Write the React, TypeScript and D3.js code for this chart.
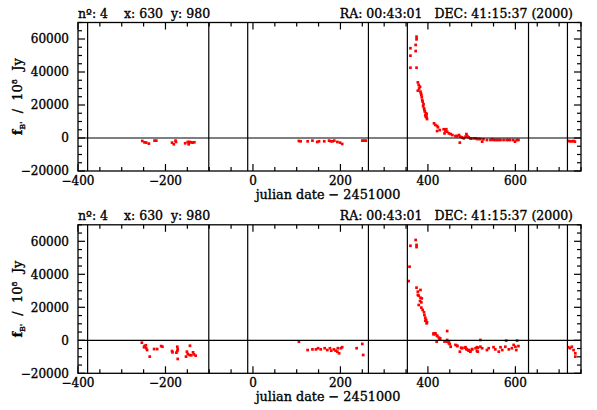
import React from "react";
import * as d3 from "d3";

const W = 597;
const H = 410;

const xDomain = [-400, 750];
const yDomain = [-20000, 70000];
const xMajor = [-400, -200, 0, 200, 400, 600];
const yMajor = [-20000, 0, 20000, 40000, 60000];
const seasonLines = [-378, -101, -12, 264, 353, 630, 719];

const headerLeft = "nº: 4    x: 630  y: 980";
const headerRight = "RA: 00:43:01   DEC: 41:15:37 (2000)";
const xTitle = "julian date − 2451000";

// top panel
const topSeason1 = [[-253,-1800],[-248,-2600],[-244,-2800],[-238,-3400],[-225,-1600],[-221,-1600],[-185,-2800],[-181,-3800],[-177,-1600],[-176,-2400],[-155,-3200],[-149,-2400],[-145,-2400],[-147,-3800],[-141,-2600],[-138,-2800],[-134,-2600]];
const topSeason2 = [[105,-1800],[109,-2000],[125,-2000],[136,-1600],[147,-2400],[151,-2000],[163,-2000],[174,-1600],[178,-2000],[182,-2000],[186,-1600],[193,-2400],[199,-2800],[204,-3600],[250,-1600],[254,-1600],[258,-1600]];
const topSeason3 = [[360,54400],[360,49900],[360,42600],[372,56400],[372,52700],[374,61400],[374,59800],[374,42600],[377,33700],[379,32100],[382,31100],[377,28700],[383,28100],[385,26100],[386,24700],[388,22000],[389,19400],[391,18000],[393,16000],[394,13900],[397,12500],[398,11500],[397,14300],[380,30000],[384,27000],[387,23000],[390,20500],[392,17000],[395,13000],[396,15000],[414,8900],[417,7900],[421,7300],[423,6500],[427,4800],[421,4200],[436,5300],[440,4400],[442,5300],[444,3800],[438,2800],[448,2800],[452,2400],[456,1800],[463,1200],[467,1200],[471,1800],[474,800],[473,-2800],[478,400],[482,-200],[486,800],[488,2400],[490,1200],[493,400],[497,-200],[499,-400],[505,-200],[509,-200],[512,-600],[516,-600],[520,-600],[524,-2200],[527,-800],[535,-1200],[543,-1200],[547,-800],[550,-1200],[554,-1200],[558,-1200],[562,-1200],[566,-1200],[573,-1200],[580,-1200],[584,-1200],[588,-1200],[595,-1200],[599,-2200],[603,-1200],[607,-1200]];
const topSeason4 = [[721,-1800],[725,-2000],[729,-2000],[733,-1800],[736,-2200]];

// bottom panel
const botSeason1 = [[-254,-1450],[-249,-4200],[-248,-3500],[-245,-3000],[-244,-4800],[-242,-5900],[-236,-9900],[-226,-5300],[-219,-5300],[-210,-3500],[-207,-3900],[-185,-6500],[-184,-7300],[-173,-3900],[-172,-5500],[-173,-6500],[-175,-7500],[-172,-11300],[-151,-6900],[-149,-8300],[-144,-3300],[-153,-9900],[-145,-8900],[-141,-9100],[-137,-7300],[-135,-8500],[-131,-9300]];
const botSeason2 = [[105,-850],[125,-5900],[136,-5500],[144,-5500],[149,-4800],[155,-5500],[164,-4800],[170,-5900],[176,-4800],[179,-6300],[185,-5500],[189,-6300],[193,-6900],[197,-7900],[201,-4800],[204,-4200],[194,-4800],[237,-4800],[250,-2200],[252,-8900]];
const botSeason3 = [[360,57300],[358,44600],[356,35900],[372,60800],[374,57800],[374,56500],[374,31900],[383,30500],[377,29500],[377,27500],[379,27000],[383,25800],[386,25400],[382,23800],[385,23000],[379,21400],[385,19800],[388,18400],[391,17000],[392,15300],[394,13700],[396,12300],[398,10900],[397,10300],[394,11900],[413,3600],[417,4200],[421,2800],[425,1600],[427,800],[413,4200],[417,3800],[421,2600],[428,1200],[420,-800],[444,5600],[438,-800],[444,200],[444,-800],[448,-1200],[448,-1800],[450,-2400],[452,-3900],[463,-2800],[467,-3300],[467,-3500],[473,-6900],[476,-4500],[478,-4800],[484,-4500],[486,-4200],[488,-5300],[489,-5500],[493,-5900],[493,-6300],[497,-6500],[497,-6900],[501,-5300],[501,-5500],[509,-4800],[512,-4200],[514,-4500],[514,-6900],[512,-6500],[520,-3900],[520,200],[524,-4800],[535,-5900],[539,-4800],[550,-4200],[554,-5500],[562,-6900],[566,-4200],[570,-5900],[577,-3900],[579,-200],[585,-5500],[592,-4800],[596,-2800],[600,-3900],[604,-200],[602,-5900],[607,-3500]];
const botSeason4 = [[721,-4200],[725,-4800],[729,-3900],[733,-5900],[737,-7900],[737,-9900]];

const topData = [topSeason1, topSeason2, topSeason3, topSeason4];
const botData = [botSeason1, botSeason2, botSeason3, botSeason4];

const FONT = "DejaVu Serif";

function Panel({ top, bottom, seasons }: { top: number; bottom: number; seasons: number[][][] }) {
  const left = 78;
  const right = 581;
  const x = d3.scaleLinear().domain(xDomain).range([left, right]);
  const y = d3.scaleLinear().domain(yDomain).range([bottom, top]);
  const xMinor = d3.range(-400, 751, 50).filter((v) => v % 200 !== 0);
  const yMinor = d3.range(-20000, 70001, 5000).filter((v) => v % 20000 !== 0);
  const fmt = (v: number) => (v < 0 ? "−" + Math.abs(v) : String(v));
  const txt = (fs: number) => ({
    fontFamily: FONT,
    fontSize: fs,
    fill: "#000",
    stroke: "#000",
    strokeWidth: 0.35,
    style: { whiteSpace: "pre" as const },
  });
  const pts = seasons.flat();
  return (
    <g>
      {pts.map((p, i) => (
        <rect key={i} x={x(p[0]) - 1.35} y={y(p[1]) - 1.35} width={2.7} height={2.7} fill="#ff0000" />
      ))}
      <line x1={left} x2={right} y1={y(0)} y2={y(0)} stroke="#000" strokeWidth={1.2} />
      {seasonLines.map((v) => (
        <line key={v} x1={x(v)} x2={x(v)} y1={top} y2={bottom} stroke="#000" strokeWidth={1.2} />
      ))}
      {xMajor.map((v) => (
        <g key={"xm" + v}>
          <line x1={x(v)} x2={x(v)} y1={bottom} y2={bottom - 7} stroke="#000" strokeWidth={1.2} />
          <line x1={x(v)} x2={x(v)} y1={top} y2={top + 7} stroke="#000" strokeWidth={1.2} />
        </g>
      ))}
      {xMinor.map((v) => (
        <g key={"xn" + v}>
          <line x1={x(v)} x2={x(v)} y1={bottom} y2={bottom - 4} stroke="#000" strokeWidth={1.2} />
          <line x1={x(v)} x2={x(v)} y1={top} y2={top + 4} stroke="#000" strokeWidth={1.2} />
        </g>
      ))}
      {yMajor.map((v) => (
        <g key={"ym" + v}>
          <line x1={left} x2={left + 7} y1={y(v)} y2={y(v)} stroke="#000" strokeWidth={1.2} />
          <line x1={right} x2={right - 7} y1={y(v)} y2={y(v)} stroke="#000" strokeWidth={1.2} />
        </g>
      ))}
      {yMinor.map((v) => (
        <g key={"yn" + v}>
          <line x1={left} x2={left + 4} y1={y(v)} y2={y(v)} stroke="#000" strokeWidth={1.2} />
          <line x1={right} x2={right - 4} y1={y(v)} y2={y(v)} stroke="#000" strokeWidth={1.2} />
        </g>
      ))}
      <rect x={left} y={top} width={right - left} height={bottom - top} fill="none" stroke="#000" strokeWidth={1.3} />
      {xMajor.map((v) => (
        <text key={"xl" + v} x={x(v)} y={bottom + 14} textAnchor="middle" {...txt(12)}>
          {fmt(v)}
        </text>
      ))}
      {yMajor.map((v) => (
        <text key={"yl" + v} x={left - 9} y={y(v) + 4.3} textAnchor="end" {...txt(12)}>
          {fmt(v)}
        </text>
      ))}
      <text x={left} y={top - 5} {...txt(12.5)}>{headerLeft}</text>
      <text x={573} y={top - 5} textAnchor="end" {...txt(12.5)}>{headerRight}</text>
      <text x={328} y={bottom + 27.5} textAnchor="middle" {...txt(12.8)}>{xTitle}</text>
      <text transform={`translate(22,${(top + bottom) / 2}) rotate(-90)`} textAnchor="middle" {...txt(13)}>
        <tspan fontWeight="bold">f</tspan>
        <tspan fontSize={8} dy={3}>B'</tspan>
        <tspan dy={-3}>{"  /  10"}</tspan>
        <tspan fontSize={8} dy={-5}>8</tspan>
        <tspan dy={5}>{"  Jy"}</tspan>
      </text>
    </g>
  );
}

export default function App() {
  return (
    <svg width={W} height={H} style={{ position: "absolute", left: 0, top: 0, background: "#fff" }}>
      <rect width={W} height={H} fill="#fff" />
      <Panel top={22.5} bottom={171} seasons={topData} />
      <Panel top={224.8} bottom={373.3} seasons={botData} />
    </svg>
  );
}
